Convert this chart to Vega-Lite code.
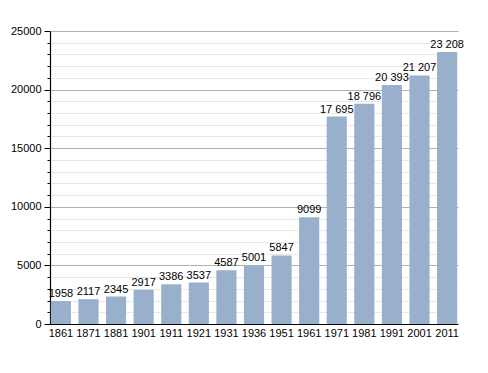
{
  "$schema": "https://vega.github.io/schema/vega-lite/v6.json",
  "width": 408,
  "height": 293,
  "autosize": {"type": "none"},
  "padding": {"left": 50, "top": 31, "right": 30, "bottom": 49},
  "background": "white",
  "config": {"view": {"stroke": null}, "font": "Liberation Sans"},
  "data": {
    "values": [
      {"year": "1861", "pop": 1958, "label": "1958"},
      {"year": "1871", "pop": 2117, "label": "2117"},
      {"year": "1881", "pop": 2345, "label": "2345"},
      {"year": "1901", "pop": 2917, "label": "2917"},
      {"year": "1911", "pop": 3386, "label": "3386"},
      {"year": "1921", "pop": 3537, "label": "3537"},
      {"year": "1931", "pop": 4587, "label": "4587"},
      {"year": "1936", "pop": 5001, "label": "5001"},
      {"year": "1951", "pop": 5847, "label": "5847"},
      {"year": "1961", "pop": 9099, "label": "9099"},
      {"year": "1971", "pop": 17695, "label": "17 695"},
      {"year": "1981", "pop": 18796, "label": "18 796"},
      {"year": "1991", "pop": 20393, "label": "20 393"},
      {"year": "2001", "pop": 21207, "label": "21 207"},
      {"year": "2011", "pop": 23208, "label": "23 208"}
    ]
  },
  "encoding": {
    "x": {
      "field": "year", "type": "ordinal", "sort": null,
      "scale": {"paddingInner": 0.27, "paddingOuter": 0.03},
      "axis": {"title": null, "labelAngle": 0, "ticks": false, "domainColor": "#000", "domainWidth": 1.2, "labelColor": "#000", "labelFontSize": 11, "labelPadding": 3, "grid": false}
    },
    "y": {
      "field": "pop", "type": "quantitative",
      "scale": {"domain": [0, 25000], "nice": false},
      "axis": {
        "title": null,
        "values": [0,1000,2000,3000,4000,5000,6000,7000,8000,9000,10000,11000,12000,13000,14000,15000,16000,17000,18000,19000,20000,21000,22000,23000,24000,25000],
        "labelExpr": "datum.value % 5000 === 0 ? '' + datum.value : ''",
        "grid": true,
        "gridColor": {"condition": {"test": "datum.value % 5000 === 0", "value": "#b0b0b0"}, "value": "#e8e8e8"},
        "tickSize": {"condition": {"test": "datum.value % 5000 === 0", "value": 6}, "value": 3},
        "tickColor": "#000",
        "domainColor": "#000",
        "domainWidth": 1.2,
        "labelColor": "#000",
        "labelFontSize": 11,
        "labelPadding": 3
      }
    }
  },
  "layer": [
    {"mark": {"type": "bar", "color": "#98b0cb"}},
    {"mark": {"type": "text", "baseline": "bottom", "dy": -2, "fontSize": 11, "color": "#000"}, "encoding": {"text": {"field": "label"}}}
  ]
}
